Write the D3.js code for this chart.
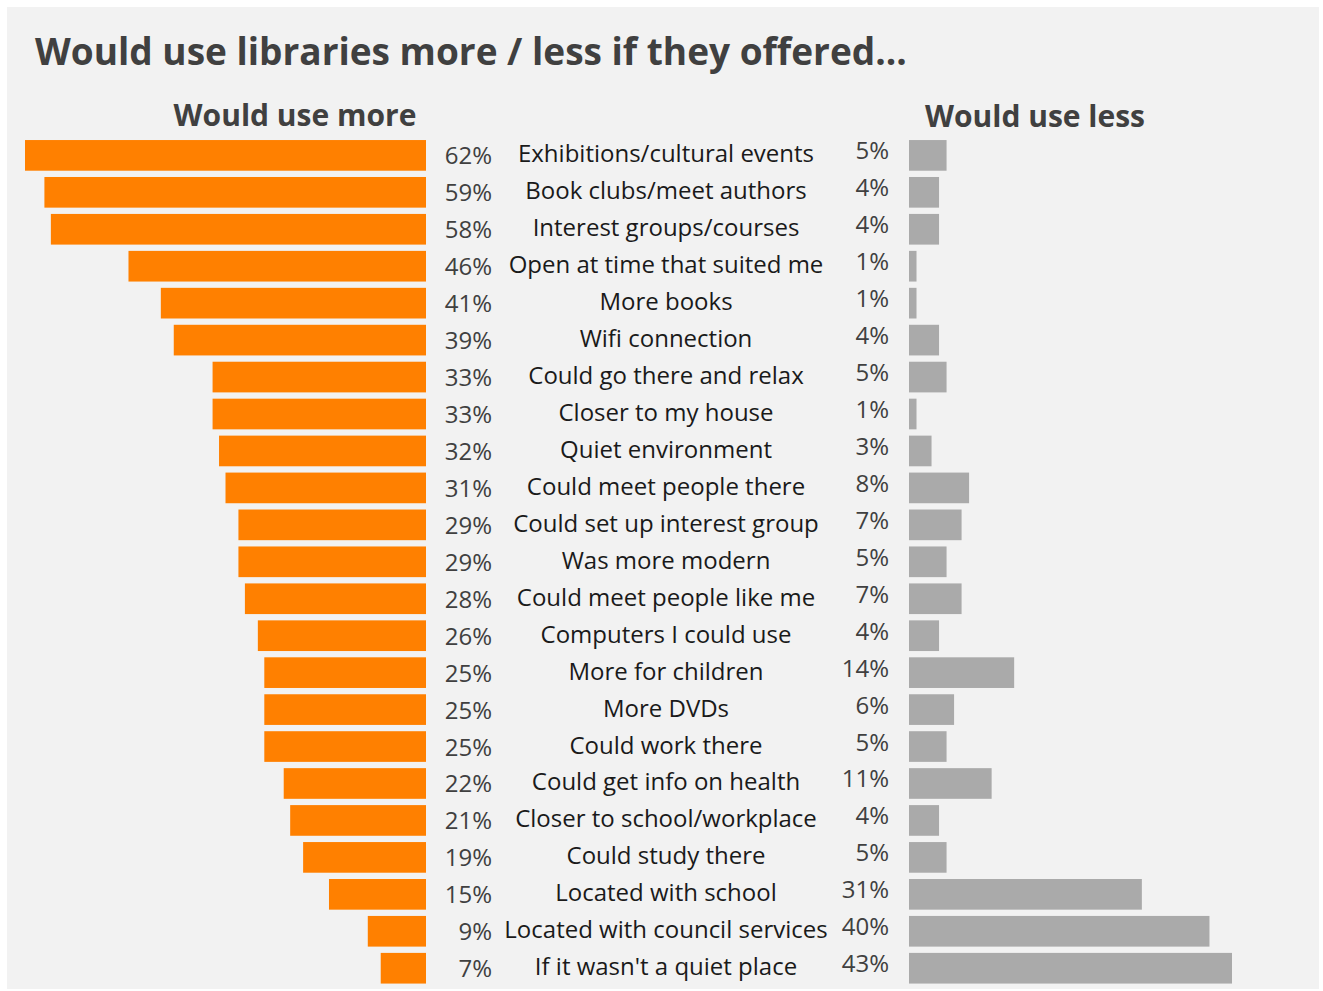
<!DOCTYPE html>
<html>
<head>
<meta charset="utf-8">
<script src="https://cdn.jsdelivr.net/npm/d3@7"></script>
<style>
  html, body { margin: 0; padding: 0; background: #ffffff; }
  svg { display: block; font-family: "Open Sans", "Noto Sans", sans-serif; }
</style>
</head>
<body>
<svg id="chart" width="1323" height="991"></svg>
<script>
// Survey answers: what would make people use libraries more / less
const categories = [
  "Exhibitions/cultural events", "Book clubs/meet authors", "Interest groups/courses",
  "Open at time that suited me", "More books", "Wifi connection", "Could go there and relax",
  "Closer to my house", "Quiet environment", "Could meet people there",
  "Could set up interest group", "Was more modern", "Could meet people like me",
  "Computers I could use", "More for children", "More DVDs", "Could work there",
  "Could get info on health", "Closer to school/workplace", "Could study there",
  "Located with school", "Located with council services", "If it wasn't a quiet place"
];
const useMore = [62, 59, 58, 46, 41, 39, 33, 33, 32, 31, 29, 29, 28, 26, 25, 25, 25, 22, 21, 19, 15, 9, 7];
const useLess = [5, 4, 4, 1, 1, 4, 5, 1, 3, 8, 7, 5, 7, 4, 14, 6, 5, 11, 4, 5, 31, 40, 43];

const titleText = "Would use libraries more / less if they offered...";
const moreHeading = "Would use more";
const lessHeading = "Would use less";

const svg = d3.select("#chart");

// Panel background
svg.append("rect").attr("x", 7).attr("y", 7).attr("width", 1312).attr("height", 982).attr("fill", "#f2f2f2");

// Scales
const y = d3.scaleBand().domain(categories).range([139.3, 984.3]).paddingInner(0.17).paddingOuter(0.02);
const leftAxisX = 426;
const rightAxisX = 909;
const xMore = d3.scaleLinear().domain([0, 62]).range([0, 401]);
const xLess = d3.scaleLinear().domain([0, 43]).range([0, 323]);

// Title and column headings
svg.append("text").attr("x", 35).attr("y", 65)
  .attr("font-size", 37).attr("font-weight", 700).attr("fill", "#404040")
  .text(titleText);

svg.append("text").attr("x", 295).attr("y", 126).attr("text-anchor", "middle")
  .attr("font-size", 30).attr("font-weight", 700).attr("fill", "#404040")
  .text(moreHeading);
svg.append("text").attr("x", 1035).attr("y", 127).attr("text-anchor", "middle")
  .attr("font-size", 30).attr("font-weight", 700).attr("fill", "#404040")
  .text(lessHeading);

const rows = categories.map((c, i) => ({ cat: c, more: useMore[i], less: useLess[i] }));

// Left bars (would use more)
svg.append("g").selectAll("rect").data(rows).join("rect")
  .attr("x", d => leftAxisX - xMore(d.more))
  .attr("y", d => y(d.cat))
  .attr("width", d => xMore(d.more))
  .attr("height", y.bandwidth())
  .attr("fill", "#ff8000");

// Right bars (would use less)
svg.append("g").selectAll("rect").data(rows).join("rect")
  .attr("x", rightAxisX)
  .attr("y", d => y(d.cat))
  .attr("width", d => xLess(d.less))
  .attr("height", y.bandwidth())
  .attr("fill", "#aaaaaa");

const mid = d => y(d.cat) + y.bandwidth() / 2;

// Left value labels
svg.append("g").selectAll("text").data(rows).join("text")
  .attr("x", 492).attr("y", d => mid(d) + 9)
  .attr("text-anchor", "end").attr("font-size", 24).attr("fill", "#404040")
  .text(d => d.more + "%");

// Category labels
svg.append("g").selectAll("text").data(rows).join("text")
  .attr("x", 666).attr("y", d => mid(d) + 7)
  .attr("text-anchor", "middle").attr("font-size", 24).attr("fill", "#1a1a1a")
  .text(d => d.cat);

// Right value labels
svg.append("g").selectAll("text").data(rows).join("text")
  .attr("x", 889).attr("y", d => mid(d) + 4)
  .attr("text-anchor", "end").attr("font-size", 24).attr("fill", "#404040")
  .text(d => d.less + "%");
</script>
</body>
</html>
